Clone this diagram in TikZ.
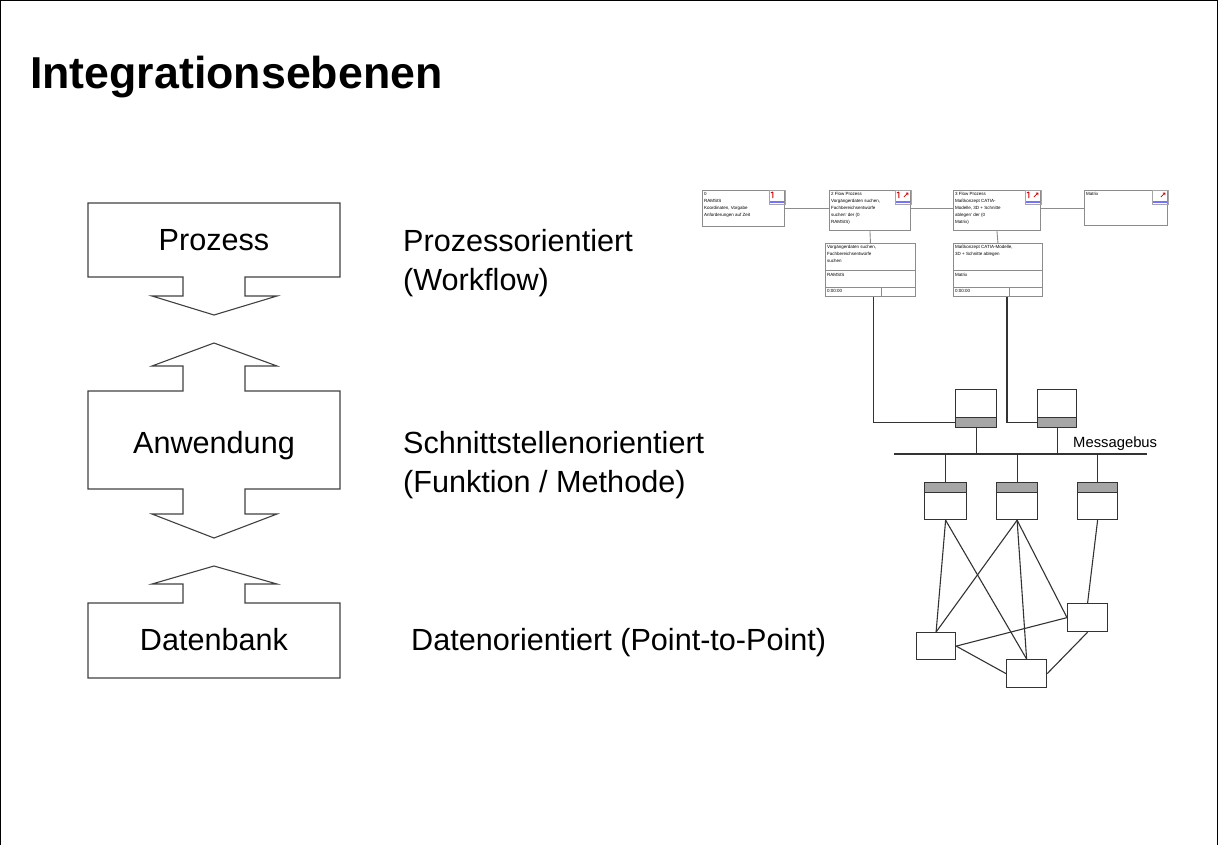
\documentclass[tikz,border=0pt]{standalone}
\usepackage{fontspec}
\setmainfont{Liberation Sans}
\begin{document}
\begin{tikzpicture}[x=1pt,y=-1pt,
  frame/.style={line width=1.2pt},
  blockarrow/.style={draw=black!75, line width=1.1pt},
  bigtext/.style={font=\fontsize{30.6}{36}\selectfont, anchor=base west, inner sep=0},
  wfbox/.style={draw=black!45, line width=0.9pt, anchor=north west, inner sep=0, fill=white},
  wfline/.style={draw=black!45, line width=0.9pt},
  tinytext/.style={font=\fontsize{4.5}{7}\selectfont, anchor=north west, align=left, inner sep=0},
  busbox/.style={draw=black!80, line width=1.2pt, anchor=north west, inner sep=0, fill=white},
  busband/.style={busbox, fill=black!35},
  netline/.style={draw=black!80, line width=1.1pt},
  wficonA/.pic={
    \draw[black!35, line width=0.5pt] (-16,0) rectangle (0,14);
    \draw[red!80!black, line width=0.9pt] (-12,2) -- (-12,8) (-14,3) -- (-12,2);
    \fill[blue!55] (-15,10.5) rectangle (-1,12.5);
  },
  wficonB/.pic={
    \draw[black!35, line width=0.5pt] (-16,0) rectangle (0,14);
    \draw[red!80!black, line width=0.9pt] (-12,2) -- (-12,8) (-14,3) -- (-12,2);
    \draw[red!80!black, line width=0.8pt] (-7,7) -- (-3,3) (-5,3) -- (-3,3) -- (-3,5);
    \fill[blue!55] (-15,10.5) rectangle (-1,12.5);
  },
  wficonC/.pic={
    \draw[black!35, line width=0.5pt] (-16,0) rectangle (0,14);
    \draw[red!80!black, line width=0.8pt] (-7,7) -- (-3,3) (-5,3) -- (-3,3) -- (-3,5);
    \fill[blue!55] (-15,10.5) rectangle (-1,12.5);
  }
]
\useasboundingbox (0,0) rectangle (1218,844);
% slide frame
\draw[frame] (0.6,0.6) rectangle (1217.4,900);

% title
\node[anchor=base west, inner sep=0, font=\bfseries\fontsize{44.7}{50}\selectfont] (title) at (30,88) {Integrationsebenen};

% layer blocks with arrows between them
\draw[blockarrow] (88,203) -- (340,203) -- (340,277) -- (245,277) -- (245,296) -- (277,296)
  -- (214,315) -- (152,296) -- (183,296) -- (183,277) -- (88,277) -- cycle;
\draw[blockarrow] (88,391) -- (183,391) -- (183,366) -- (152,366) -- (214,343) -- (277,366)
  -- (245,366) -- (245,391) -- (340,391) -- (340,489) -- (245,489) -- (245,514) -- (277,514)
  -- (214,538) -- (152,514) -- (183,514) -- (183,489) -- (88,489) -- cycle;
\draw[blockarrow] (88,603) -- (183,603) -- (183,584) -- (152,584) -- (214,566) -- (277,584)
  -- (245,584) -- (245,603) -- (340,603) -- (340,678) -- (88,678) -- cycle;

\node[bigtext, anchor=base] (prozess) at (214,250) {Prozess};
\node[bigtext, anchor=base] (anwendung) at (214,453) {Anwendung};
\node[bigtext, anchor=base] (datenbank) at (214,650) {Datenbank};

% level descriptions
\node[bigtext] (lvl1a) at (403,251) {Prozessorientiert};
\node[bigtext] (lvl1b) at (403,290) {(Workflow)};
\node[bigtext] (lvl2a) at (403,453) {Schnittstellenorientiert};
\node[bigtext] (lvl2b) at (403,492) {(Funktion / Methode)};
\node[bigtext] (lvl3) at (411,650) {Datenorientiert (Point-to-Point)};

% workflow steps
\node[wfbox, minimum width=82pt, minimum height=36pt] (w1) at (702,190) {};
\node[wfbox, minimum width=81pt, minimum height=40pt] (w2) at (829,190) {};
\node[wfbox, minimum width=87pt, minimum height=40pt] (w3) at (953,190) {};
\node[wfbox, minimum width=83pt, minimum height=35pt] (w4) at (1084,190) {};
\draw[wfline] (w1.east) -- (w1.east -| w2.west);
\draw[wfline] (w2.east |- w1.east) -- (w1.east -| w3.west);
\draw[wfline] (w3.east |- w1.east) -- (w1.east -| w4.west);
\pic at (w1.north east) {wficonA};
\pic at (w2.north east) {wficonB};
\pic at (w3.north east) {wficonB};
\pic at (w4.north east) {wficonC};
\node[tinytext] (w1t) at (704,192) {0\\RAMSIS\\Koordinaten, Vorgabe\\Anforderungen auf Zeit};
\node[tinytext] (w2t) at (831,192) {2 Flow Prozess\\Vorgängerdaten suchen,\\Fachbereichsentwürfe\\suchen' der (0\\RAMSIS)};
\node[tinytext] (w3t) at (955,192) {3 Flow Prozess\\Maßkonzept CATIA-\\Modelle, 3D + Schnitte\\ablegen' der (0\\Matrix)};
\node[tinytext] (w4t) at (1086,192) {Matrix};

% task details
\node[wfbox, minimum width=90pt, minimum height=53pt] (l1) at (825,243) {};
\node[wfbox, minimum width=89pt, minimum height=53pt] (l2) at (953,243) {};
\draw[wfline] (w2.south) -- (l1.north);
\draw[wfline] (w3.south) -- (l2.north);
\draw[wfline] (l1.west |- 0,270) -- (l1.east |- 0,270) (l1.west |- 0,287) -- (l1.east |- 0,287) (881,287) -- (881,296);
\draw[wfline] (l2.west |- 0,270) -- (l2.east |- 0,270) (l2.west |- 0,287) -- (l2.east |- 0,287) (1009,287) -- (1009,296);
\node[tinytext] (l1a) at (827,245) {Vorgängerdaten suchen,\\Fachbereichsentwürfe\\suchen};
\node[tinytext] (l1b) at (827,273) {RAMSIS};
\node[tinytext] (l1c) at (827,289) {0:00:00};
\node[tinytext] (l2a) at (955,245) {Maßkonzept CATIA-Modelle,\\3D + Schnitte ablegen};
\node[tinytext] (l2b) at (955,273) {Matrix};
\node[tinytext] (l2c) at (955,289) {0:00:00};

% adapters on the message bus
\node[busbox, minimum width=41pt, minimum height=28pt] (a) at (955,389) {};
\node[busband, minimum width=41pt, minimum height=10pt] (aband) at (955,417) {};
\node[busbox, minimum width=39pt, minimum height=28pt] (b) at (1037,389) {};
\node[busband, minimum width=39pt, minimum height=10pt] (bband) at (1037,417) {};
\draw[netline] ([xshift=3pt]l1.south) |- (aband.west);
\draw[netline] ([xshift=9pt]l2.south) |- (bband.west);

\coordinate (busL) at (894,454);
\coordinate (busR) at (1147,454);
\draw[netline] (busL) -- (busR);
\node[anchor=base west, inner sep=0, font=\fontsize{14.8}{17}\selectfont] (bus) at (1073,447) {Messagebus};

\node[busband, minimum width=42pt, minimum height=10pt] (cband) at (924,482) {};
\node[busbox, minimum width=42pt, minimum height=27pt] (c) at (924,492) {};
\node[busband, minimum width=41pt, minimum height=10pt] (dband) at (996,482) {};
\node[busbox, minimum width=41pt, minimum height=27pt] (d) at (996,492) {};
\node[busband, minimum width=40pt, minimum height=10pt] (eband) at (1077,482) {};
\node[busbox, minimum width=40pt, minimum height=27pt] (e) at (1077,492) {};

\draw[netline] (aband.south) -- (aband.south |- busL);
\draw[netline] (bband.south) -- (bband.south |- busL);
\draw[netline] (cband.north |- busL) -- (cband.north);
\draw[netline] (dband.north |- busL) -- (dband.north);
\draw[netline] (eband.north |- busL) -- (eband.north);

% point-to-point systems
\node[busbox, minimum width=39pt, minimum height=27pt] (f) at (916,632) {};
\node[busbox, minimum width=40pt, minimum height=28pt] (g) at (1006,659) {};
\node[busbox, minimum width=40pt, minimum height=28pt] (h) at (1067,603) {};

\draw[netline] (c.south) -- (f.north);
\draw[netline] (c.south) -- (g.north);
\draw[netline] (d.south) -- (f.north);
\draw[netline] (d.south) -- (g.north);
\draw[netline] (d.south) -- (h.west);
\draw[netline] (e.south) -- (h.north);
\draw[netline] (f.east) -- (h.west);
\draw[netline] (f.east) -- (g.west);
\draw[netline] (g.east) -- (h.south);
\end{tikzpicture}
\end{document}
